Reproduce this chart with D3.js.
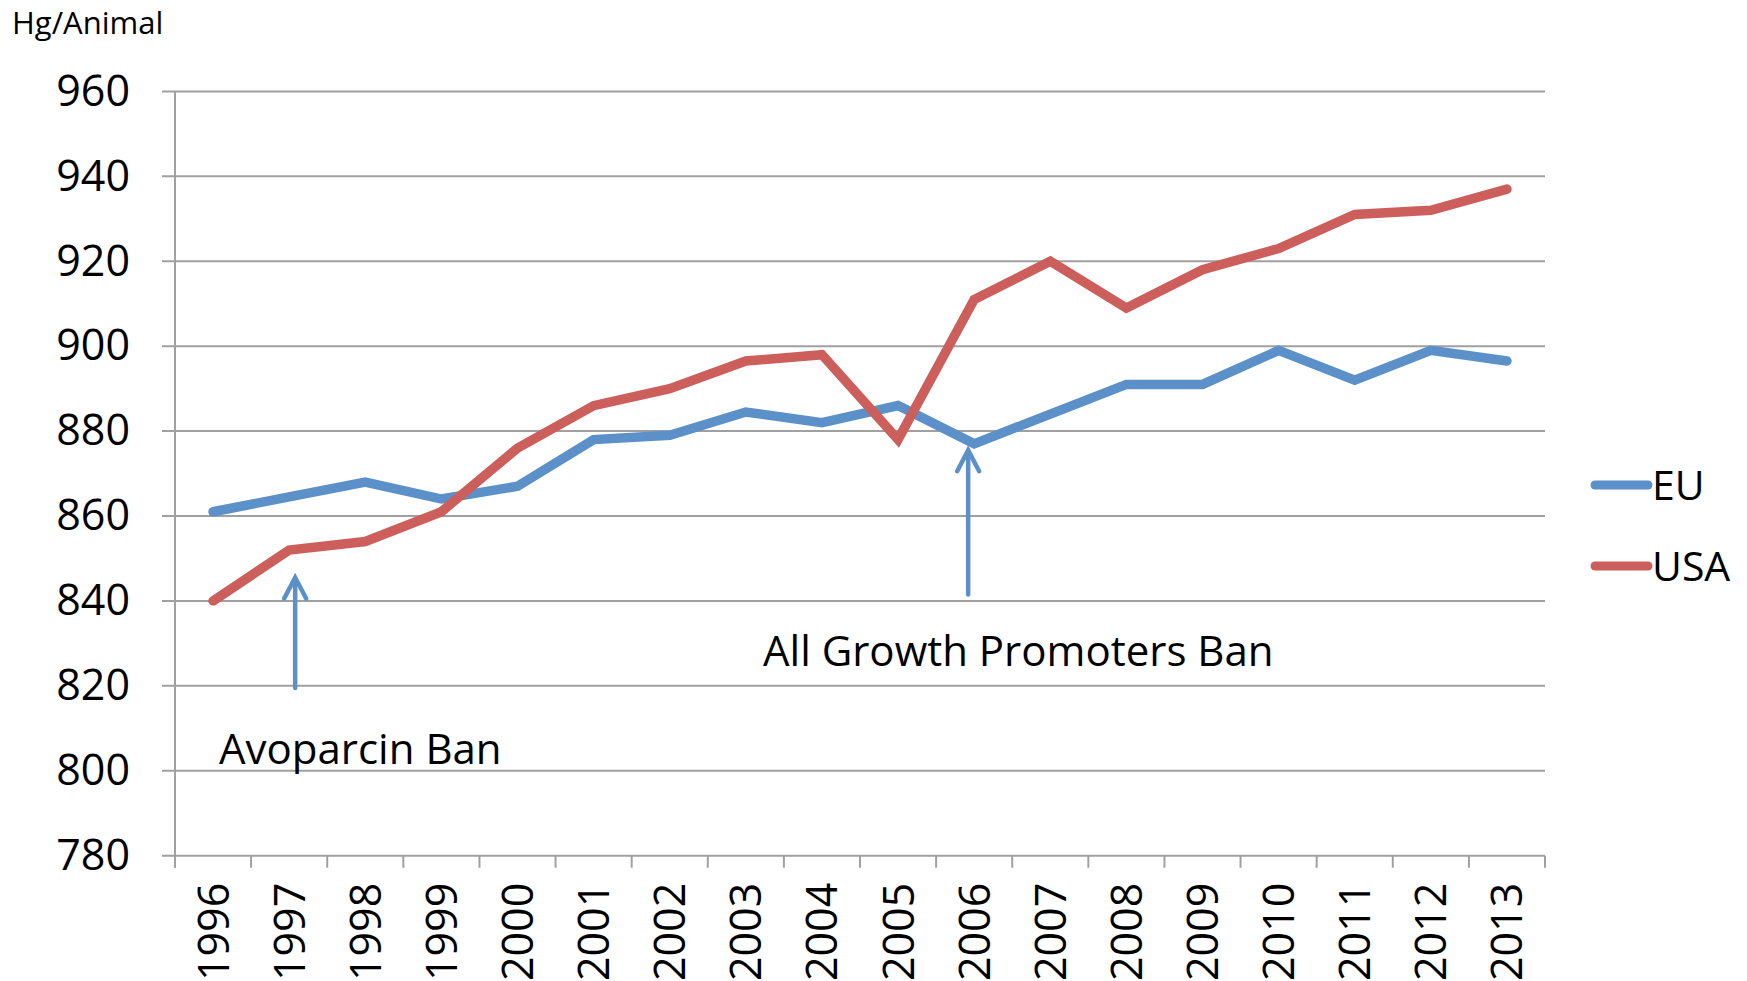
<!DOCTYPE html>
<html>
<head>
<meta charset="utf-8">
<script src="https://cdn.jsdelivr.net/npm/d3@7"></script>
<style>
  html, body { margin: 0; padding: 0; background: #fff; }
  svg { display: block; }
  text { font-family: "Open Sans", "Liberation Sans", sans-serif; fill: #000; }
</style>
</head>
<body>
<svg id="chart" width="1747" height="981"></svg>
<script>
// Hog carcass weight per animal (hg), 1996–2013
const years = ["1996","1997","1998","1999","2000","2001","2002","2003","2004",
               "2005","2006","2007","2008","2009","2010","2011","2012","2013"];
const euValues  = [861, 864.5, 868, 864, 867, 878, 879, 884.5, 882, 886, 877, 884, 891, 891, 899, 892, 899, 896.5];
const usaValues = [840, 852, 854, 861, 876, 886, 890, 896.5, 898, 878, 911, 920, 909, 918, 923, 931, 932, 937];
const seriesNames = ["EU", "USA"];
const seriesColors = ["#5b90c8", "#cc5f5b"];
const yTicks = [780, 800, 820, 840, 860, 880, 900, 920, 940, 960];
const unitLabel = "Hg/Animal";

// Ban annotations: year, arrow base / tip value, label
const annotationYears = ["1997", "2006"];
const annotationFrom = [819.5, 841.5];
const annotationTo = [845.5, 875.5];
const annotationLabels = ["Avoparcin Ban", "All Growth Promoters Ban"];

const svg = d3.select("#chart");
const plotLeft = 175, plotRight = 1545, plotTop = 91.4, plotBottom = 855.7;
const gridColor = "#a0a0a0";

const x = d3.scaleBand().domain(years).range([plotLeft, plotRight]).padding(0);
const y = d3.scaleLinear().domain([780, 960]).range([plotBottom, plotTop]);
const cx = d => x(d) + x.bandwidth() / 2;

// horizontal gridlines (with short outward ticks on the left)
svg.append("g").selectAll("line").data(yTicks).join("line")
  .attr("x1", plotLeft - 13).attr("x2", plotRight)
  .attr("y1", d => y(d)).attr("y2", d => y(d))
  .attr("stroke", gridColor).attr("stroke-width", 2);

// vertical axis line
svg.append("line")
  .attr("x1", plotLeft).attr("x2", plotLeft)
  .attr("y1", plotTop).attr("y2", plotBottom + 12)
  .attr("stroke", gridColor).attr("stroke-width", 2);

// category boundary ticks below the horizontal axis
const boundaries = years.map(d => x(d)).concat([plotRight]);
svg.append("g").selectAll("line").data(boundaries).join("line")
  .attr("x1", d => d).attr("x2", d => d)
  .attr("y1", plotBottom).attr("y2", plotBottom + 12)
  .attr("stroke", gridColor).attr("stroke-width", 2);

// y axis labels
const yAxis = svg.append("g").attr("transform", `translate(${plotLeft},0)`)
  .call(d3.axisLeft(y).tickValues(yTicks).tickSize(0).tickPadding(45).tickFormat(d3.format("d")));
yAxis.select(".domain").remove();
yAxis.selectAll("text").attr("font-size", 43).attr("font-family", '"Open Sans", sans-serif').attr("fill", "#000");

// x axis labels, rotated
const xAxis = svg.append("g").attr("transform", `translate(0,${plotBottom})`)
  .call(d3.axisBottom(x).tickSize(0).tickPadding(0));
xAxis.select(".domain").remove();
xAxis.selectAll("text")
  .attr("font-size", 43).attr("font-family", '"Open Sans", sans-serif').attr("fill", "#000")
  .attr("text-anchor", "end")
  .attr("transform", "rotate(-90)")
  .attr("x", -27).attr("y", 0).attr("dy", "0.36em");

// unit label
svg.append("text").attr("x", 12).attr("y", 34).attr("font-size", 31).text(unitLabel);

// series lines
const line = d3.line().x((d, i) => cx(years[i])).y(d => y(d));
[euValues, usaValues].forEach((vals, k) => {
  svg.append("path").datum(vals)
    .attr("d", line)
    .attr("fill", "none")
    .attr("stroke", seriesColors[k])
    .attr("stroke-width", 9.5)
    .attr("stroke-linecap", "round")
    .attr("stroke-linejoin", "miter");
});

// annotation arrows
const arrowColor = "#5b90c8";
const offsets = [6, -6];
annotationYears.forEach((yr, i) => {
  const ax = cx(yr) + offsets[i];
  const y0 = y(annotationFrom[i]), y1 = y(annotationTo[i]);
  const g = svg.append("g").attr("stroke", arrowColor).attr("stroke-width", 4.5)
    .attr("fill", "none").attr("stroke-linecap", "round");
  g.append("line").attr("x1", ax).attr("x2", ax).attr("y1", y0).attr("y2", y1 + 2);
  g.append("path").attr("d", `M${ax - 11},${y1 + 21} L${ax},${y1} L${ax + 11},${y1 + 21}`)
    .attr("stroke-linejoin", "miter");
});

// annotation labels
svg.append("text").attr("x", 219).attr("y", 764).attr("font-size", 42).text(annotationLabels[0]);
svg.append("text").attr("x", 763).attr("y", 666).attr("font-size", 42).text(annotationLabels[1]);

// legend
const legendY = [485, 566];
seriesNames.forEach((name, i) => {
  svg.append("line")
    .attr("x1", 1595).attr("x2", 1648)
    .attr("y1", legendY[i]).attr("y2", legendY[i])
    .attr("stroke", seriesColors[i]).attr("stroke-width", 9).attr("stroke-linecap", "round");
  svg.append("text").attr("x", 1652).attr("y", legendY[i]).attr("dy", "0.36em")
    .attr("font-size", 41).text(name);
});
</script>
</body>
</html>
